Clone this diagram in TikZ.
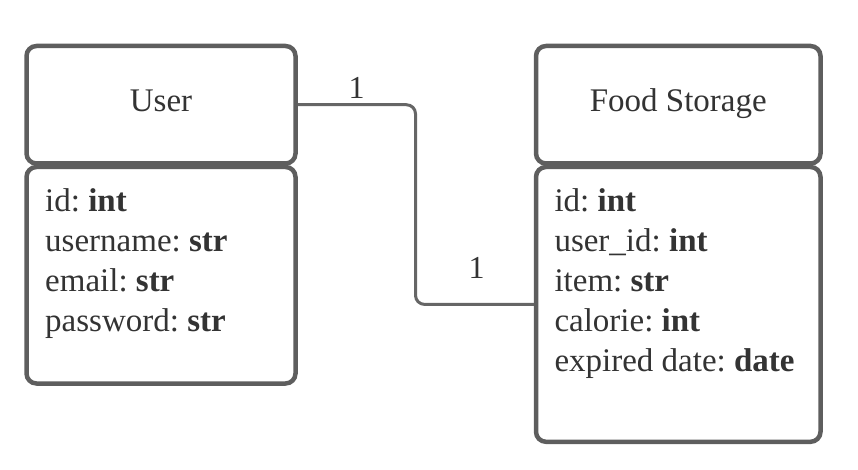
\documentclass[tikz,border=0pt]{standalone}
\usepackage{fontspec}
\setmainfont{Liberation Serif}
\frenchspacing
\definecolor{bordergray}{HTML}{5E5E5E}
\definecolor{txtgray}{HTML}{333333}
\definecolor{conngray}{HTML}{666666}
\tikzset{
  ent/.style={draw=bordergray, line width=4.5pt, rounded corners=10pt, fill=white, inner sep=0pt},
  hdr/.style={ent, font=\fontsize{33}{40}\selectfont, text=txtgray},
  attrs/.style={anchor=north west, inner sep=0pt, align=left, font=\fontsize{33}{40}\selectfont, text=txtgray},
  conn/.style={draw=conngray, line width=3pt, rounded corners=9pt},
  card/.style={anchor=base, inner sep=0pt, font=\fontsize{32}{38}\selectfont, text=txtgray}
}
\begin{document}
\begin{tikzpicture}[x=1pt,y=-1pt]
\useasboundingbox (0,0) rectangle (858,470);
% User entity
\node[hdr, minimum width=269pt, minimum height=117.5pt] (uh) at (161,104.75) {};
\node[ent, minimum width=269pt, minimum height=216.5pt] (ub) at (161,275.25) {};
\node[anchor=base, inner sep=0pt, font=\fontsize{33}{40}\selectfont, text=txtgray] (ut) at (161,111.7) {User};
% Food Storage entity
\node[hdr, minimum width=284.5pt, minimum height=117.5pt] (fh) at (678.25,104.75) {};
\node[ent, minimum width=284.5pt, minimum height=274.8pt] (fb) at (678.25,304.4) {};
\node[anchor=base, inner sep=0pt, font=\fontsize{33}{40}\selectfont, text=txtgray] (ft) at (678.25,111.7) {Food Storage};
% attributes
\node[attrs] (ua) at (45,188.5) {id: \textbf{int}\\username: \textbf{str}\\email: \textbf{str}\\password: \textbf{str}};
\node[attrs] (fa) at (554.3,188.5) {id: \textbf{int}\\user\_id: \textbf{int}\\item: \textbf{str}\\calorie: \textbf{int}\\expired date: \textbf{date}};
% connector
\coordinate (xb) at (415.5,0);
\draw[conn] (uh.east) -- (uh.east -| xb) -- (xb |- fb.west) -- (fb.west);
% cardinalities
\node[card] (c1) at (356.7,98.3) {1};
\node[card] (c2) at (476.7,278.3) {1};
\end{tikzpicture}
\end{document}
